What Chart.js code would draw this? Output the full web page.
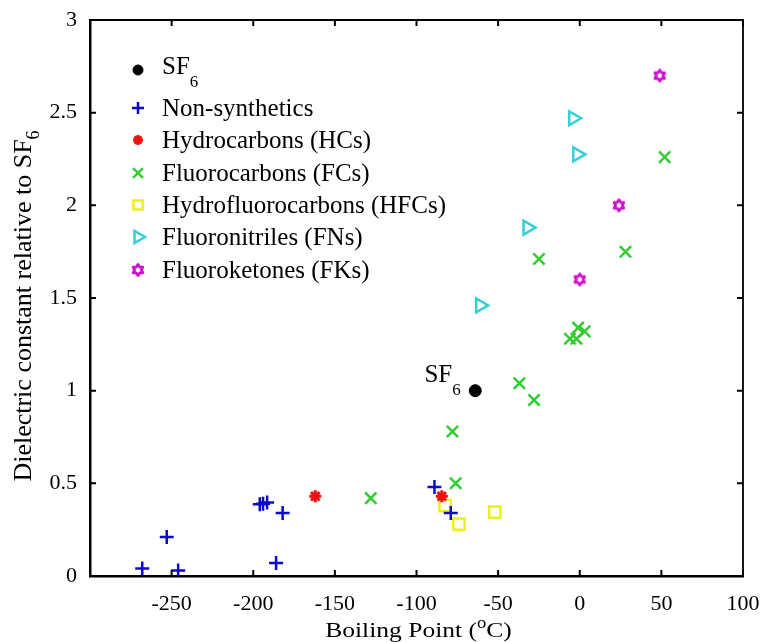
<!DOCTYPE html>
<html><head><meta charset="utf-8">
<script src="https://cdn.jsdelivr.net/npm/chart.js@4/dist/chart.umd.min.js"></script>
<style>html,body{margin:0;padding:0;background:#fff}#w{width:763px;height:642px}</style>
</head><body><div id="w"><canvas id="c" width="763" height="642"></canvas></div>
<script>
// ---- data ----
const sf6X = [-64];
const sf6Y = [1.0];
const nonSynX = [-268, -253, -246, -196, -194, -191.5, -182, -186, -89, -79];
const nonSynY = [0.04, 0.21, 0.03, 0.387, 0.39, 0.396, 0.34, 0.07, 0.48, 0.34];
const hcX = [-162, -84.5];
const hcY = [0.43, 0.43];
const fcX = [-128, -76, -78, -37, -28, -25, 28, 52, -6, -2, -1, 3];
const fcY = [0.42, 0.50, 0.78, 1.04, 0.95, 1.71, 1.75, 2.26, 1.28, 1.28, 1.34, 1.32];
const hfcX = [-82.5, -74, -52];
const hfcY = [0.38, 0.28, 0.345];
const fnX = [-61, -32, -4, -1.5];
const fnY = [1.46, 1.88, 2.47, 2.275];
const fkX = [0, 24, 49];
const fkY = [1.60, 2.00, 2.70];
const xTickValues = [-300, -250, -200, -150, -100, -50, 0, 50, 100];
const xTickLabels = ['', '-250', '-200', '-150', '-100', '-50', '0', '50', '100'];
const yTickValues = [0, 0.5, 1, 1.5, 2, 2.5, 3];
const yTickLabels = ['0', '0.5', '1', '1.5', '2', '2.5', '3'];
const legendNames = ['SF', 'Non-synthetics', 'Hydrocarbons (HCs)', 'Fluorocarbons (FCs)', 'Hydrofluorocarbons (HFCs)', 'Fluoronitriles (FNs)', 'Fluoroketones (FKs)'];

const FONT = "'Liberation Serif', 'DejaVu Serif', serif";
const pts = (xs, ys) => xs.map((x, i) => ({x: x, y: ys[i]}));

// hexagram marker
function makeHex(color) {
  const c = document.createElement('canvas');
  c.width = 16; c.height = 16;
  const g = c.getContext('2d');
  g.strokeStyle = color; g.lineWidth = 2.8; g.lineJoin = 'round';
  g.beginPath();
  for (let i = 0; i < 12; i++) {
    const r = (i % 2 === 0) ? 5.6 : 3.4;
    const a = -Math.PI / 2 + i * Math.PI / 6;
    const px = 8 + r * Math.cos(a), py = 8 + r * Math.sin(a);
    if (i === 0) g.moveTo(px, py); else g.lineTo(px, py);
  }
  g.closePath(); g.stroke();
  return c;
}
const hexImg = makeHex('#d010d0');

const datasets = [
  {label: 'SF6', data: pts(sf6X, sf6Y), pointStyle: 'circle', radius: 6, legendRadius: 5, backgroundColor: '#000', borderColor: '#000', borderWidth: 1},
  {label: 'Non-synthetics', data: pts(nonSynX, nonSynY), pointStyle: 'cross', radius: 7, legendRadius: 6, borderColor: '#0a0ac8', backgroundColor: '#0a0ac8', borderWidth: 2.5},
  {label: 'Hydrocarbons (HCs)', data: pts(hcX, hcY), pointStyle: 'star', radius: 6, legendRadius: 5, borderColor: '#f01010', backgroundColor: '#f01010', borderWidth: 3},
  {label: 'Fluorocarbons (FCs)', data: pts(fcX, fcY), pointStyle: 'crossRot', radius: 8, legendRadius: 7, borderColor: '#33cc33', backgroundColor: '#33cc33', borderWidth: 2.5},
  {label: 'Hydrofluorocarbons (HFCs)', data: pts(hfcX, hfcY), pointStyle: 'rect', radius: 8, legendRadius: 6.5, borderColor: '#eeee22', backgroundColor: 'rgba(0,0,0,0)', borderWidth: 2.5},
  {label: 'Fluoronitriles (FNs)', data: pts(fnX, fnY), pointStyle: 'triangle', rotation: 90, radius: 8, legendRadius: 7, borderColor: '#33d0d8', backgroundColor: 'rgba(0,0,0,0)', borderWidth: 2.5},
  {label: 'Fluoroketones (FKs)', data: pts(fkX, fkY), pointStyle: hexImg, radius: 7, legendRadius: 7, borderColor: '#d010d0', backgroundColor: '#d010d0', borderWidth: 2}
];

const decor = {
  id: 'decor',
  afterDraw(chart) {
    const ctx = chart.ctx, a = chart.chartArea;
    const xs = chart.scales.x, ys = chart.scales.y;
    ctx.save();
    // frame top/right
    ctx.strokeStyle = '#000'; ctx.lineWidth = 1.8;
    ctx.beginPath();
    ctx.moveTo(a.left, a.top); ctx.lineTo(a.right, a.top); ctx.lineTo(a.right, a.bottom);
    ctx.stroke();
    // inward ticks
    ctx.lineWidth = 2;
    xTickValues.forEach(v => {
      const p = xs.getPixelForValue(v);
      ctx.beginPath(); ctx.moveTo(p, a.bottom); ctx.lineTo(p, a.bottom - 6);
      ctx.moveTo(p, a.top); ctx.lineTo(p, a.top + 6); ctx.stroke();
    });
    yTickValues.forEach(v => {
      const p = ys.getPixelForValue(v);
      ctx.beginPath(); ctx.moveTo(a.left, p); ctx.lineTo(a.left + 6, p);
      ctx.moveTo(a.right, p); ctx.lineTo(a.right - 6, p); ctx.stroke();
    });
    ctx.fillStyle = '#000';
    ctx.textBaseline = 'alphabetic';
    // x title (horizontally stretched like the reference)
    const t1 = 'Boiling Point (', t2 = 'o', t3 = 'C)';
    ctx.font = '22px ' + FONT; const w1 = ctx.measureText(t1).width, w3 = ctx.measureText(t3).width;
    ctx.font = '16px ' + FONT; const w2 = ctx.measureText(t2).width;
    const sxScale = 1.16;
    const total = (w1 + w2 + w3) * sxScale;
    ctx.save();
    ctx.translate((a.left + a.right) / 2 - total / 2 + 2, 637);
    ctx.scale(sxScale, 1);
    ctx.textAlign = 'left';
    ctx.font = '22px ' + FONT; ctx.fillText(t1, 0, 0);
    ctx.font = '16px ' + FONT; ctx.fillText(t2, w1, -9);
    ctx.font = '22px ' + FONT; ctx.fillText(t3, w1 + w2, 0);
    ctx.restore();
    // y title
    ctx.save();
    ctx.translate(31, 306);
    ctx.rotate(-Math.PI / 2);
    const y1 = 'Dielectric constant relative to SF', y2 = '6';
    ctx.font = '26px ' + FONT; const yw1 = ctx.measureText(y1).width;
    ctx.font = '18px ' + FONT; const yw2 = ctx.measureText(y2).width;
    const ys0 = -(yw1 + yw2) / 2;
    ctx.textAlign = 'left';
    ctx.font = '26px ' + FONT; ctx.fillText(y1, ys0, 0);
    ctx.font = '18px ' + FONT; ctx.fillText(y2, ys0 + yw1, 8);
    ctx.restore();
    // SF6 annotation
    const sp = {x: xs.getPixelForValue(sf6X[0]), y: ys.getPixelForValue(sf6Y[0])};
    ctx.font = '25px ' + FONT; ctx.textAlign = 'right';
    ctx.fillText('SF', sp.x - 23, sp.y - 9);
    ctx.font = '17px ' + FONT; ctx.textAlign = 'left';
    ctx.fillText('6', sp.x - 23, sp.y + 4);
    // legend
    const mx = 138, tx = 162;
    const rowY = [70, 108, 140, 173, 205, 237, 270];
    chart.data.datasets.forEach((ds, i) => {
      const opts = {pointStyle: ds.pointStyle, radius: ds.legendRadius, rotation: ds.rotation || 0, borderWidth: ds.borderWidth};
      ctx.save();
      ctx.strokeStyle = ds.borderColor; ctx.fillStyle = ds.backgroundColor; ctx.lineWidth = ds.borderWidth;
      Chart.helpers.drawPoint(ctx, opts, mx, rowY[i]);
      ctx.restore();
      ctx.fillStyle = '#000'; ctx.textAlign = 'left';
      ctx.font = '25px ' + FONT;
      if (i === 0) {
        ctx.fillText(legendNames[0], tx, rowY[0] + 4);
        const w = ctx.measureText(legendNames[0]).width;
        ctx.font = '17px ' + FONT; ctx.fillText('6', tx + w, rowY[0] + 17);
      } else {
        ctx.fillText(legendNames[i], tx, rowY[i] + 8);
      }
    });
    ctx.restore();
  }
};

new Chart(document.getElementById('c'), {
  type: 'scatter',
  data: {datasets: datasets},
  options: {
    responsive: false, animation: false, devicePixelRatio: 1,
    layout: {padding: {top: 20, right: 20, left: 0, bottom: 0}},
    plugins: {legend: {display: false}, tooltip: {enabled: false}},
    scales: {
      x: {
        type: 'linear', min: -300, max: 100,
        afterBuildTicks(s) { s.ticks = xTickValues.map(v => ({value: v})); },
        afterFit(s) { s.height = 66; s.paddingLeft = 0; s.paddingRight = 0; },
        grid: {display: false},
        border: {display: true, color: '#000', width: 2.5},
        ticks: {color: '#000', font: {family: FONT, size: 22}, padding: 7, maxRotation: 0,
          callback: (v) => { const i = xTickValues.indexOf(v); return i >= 0 ? xTickLabels[i] : ''; }}
      },
      y: {
        type: 'linear', min: 0, max: 3,
        afterBuildTicks(s) { s.ticks = yTickValues.map(v => ({value: v})); },
        afterFit(s) { s.width = 90; s.paddingTop = 0; s.paddingBottom = 0; },
        grid: {display: false},
        border: {display: true, color: '#000', width: 2.5},
        ticks: {color: '#000', font: {family: FONT, size: 22}, padding: 5,
          callback: (v) => { const i = yTickValues.indexOf(v); return i >= 0 ? yTickLabels[i] : ''; }}
      }
    }
  },
  plugins: [decor]
});
</script></body></html>
